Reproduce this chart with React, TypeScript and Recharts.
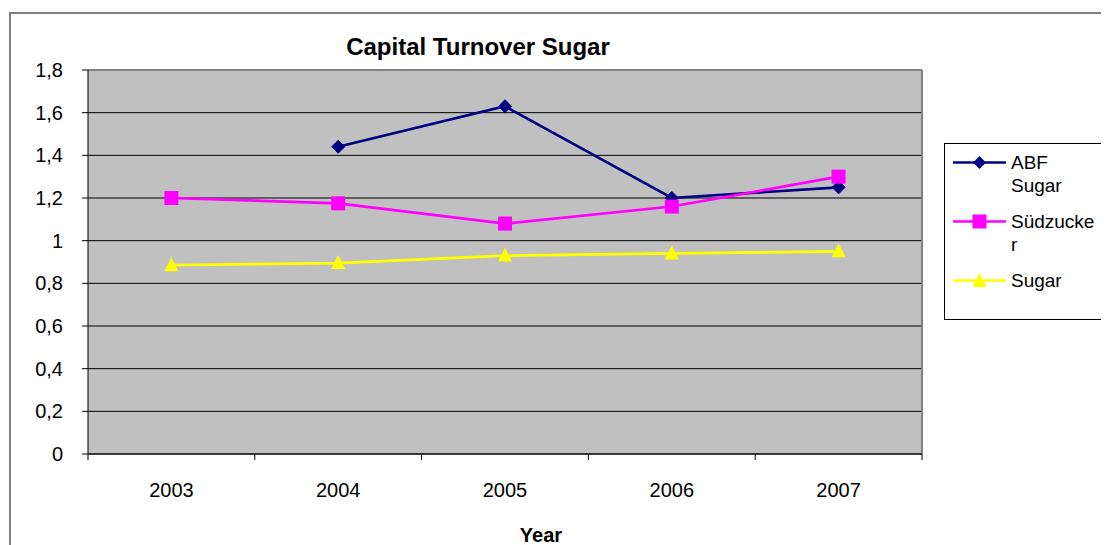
import React from "react";
import { LineChart, Line, XAxis, YAxis, CartesianGrid } from "recharts";

const years = ["2003", "2004", "2005", "2006", "2007"];
const abfSugar = [null, 1.44, 1.63, 1.2, 1.25];
const suedzucker = [1.2, 1.175, 1.08, 1.16, 1.3];
const sugar = [0.885, 0.895, 0.93, 0.94, 0.95];
const yTicks = [0, 0.2, 0.4, 0.6, 0.8, 1, 1.2, 1.4, 1.6, 1.8];
const seriesNames = ["ABF Sugar", "Südzucker", "Sugar"];
const legendLines = [["ABF", "Sugar"], ["Südzucke", "r"], ["Sugar"]];
const seriesColors = ["#000080", "#FF00FF", "#FFFF00"];
const seriesKeys = ["abf", "sued", "sugar"];
const titleText = "Capital Turnover Sugar";
const xTitle = "Year";

const data = years.map((y, i) => ({
  year: y,
  abf: abfSugar[i],
  sued: suedzucker[i],
  sugar: sugar[i],
}));

const FONT = "'Liberation Sans', Arial, sans-serif";
const W = 1101;
const H = 537;
const PLOT_H = 384;
const M = { top: 62, right: 187, left: 0, bottom: 0 };
const Y_W = 80;
const PLOT_W = W - Y_W - M.right;
const BAND = PLOT_W / years.length;

const Diamond = (props: any) => {
  const { cx, cy } = props;
  if (cx == null || cy == null || props.value == null) return null;
  const r = 6.5;
  return (
    <path
      d={`M${cx},${cy - r}L${cx + r},${cy}L${cx},${cy + r}L${cx - r},${cy}Z`}
      fill="#000080"
      stroke="#000080"
    />
  );
};
const Square = (props: any) => {
  const { cx, cy } = props;
  if (cx == null || cy == null || props.value == null) return null;
  const s = 14;
  return <rect x={cx - s / 2} y={cy - s / 2} width={s} height={s} fill="#FF00FF" />;
};
const Triangle = (props: any) => {
  const { cx, cy } = props;
  if (cx == null || cy == null || props.value == null) return null;
  const h = 14;
  return (
    <path
      d={`M${cx},${cy - h / 2 - 1}L${cx + 7},${cy + h / 2 - 1}L${cx - 7},${cy + h / 2 - 1}Z`}
      fill="#FFFF00"
    />
  );
};
const shapes = [Diamond, Square, Triangle];

const XTick = (props: any) => {
  const { x, y, payload, index } = props;
  const axisY = y - 6;
  return (
    <g>
      <line x1={x - BAND / 2} x2={x - BAND / 2} y1={axisY} y2={axisY + 6} stroke="#000" />
      {index === years.length - 1 && (
        <line x1={x + BAND / 2} x2={x + BAND / 2} y1={axisY} y2={axisY + 6} stroke="#000" />
      )}
      <text
        x={x}
        y={axisY + 36}
        dy="0.355em"
        textAnchor="middle"
        fill="#000"
        fontSize={20}
        fontFamily={FONT}
      >
        {payload.value}
      </text>
    </g>
  );
};

const LegendMarker = ({ i }: { i: number }) => {
  const c = seriesColors[i];
  return (
    <svg width={58} height={23} style={{ display: "block", flex: "none" }}>
      <line x1={0} x2={53} y1={11.5} y2={11.5} stroke={c} strokeWidth={2.5} />
      {i === 0 && <path d="M26.5,5L33,11.5L26.5,18L20,11.5Z" fill={c} />}
      {i === 1 && <rect x={19.5} y={4.5} width={14} height={14} fill={c} />}
      {i === 2 && <path d="M26.5,4L33.5,18L19.5,18Z" fill={c} />}
    </svg>
  );
};

export default function App() {
  return (
    <div style={{ position: "relative", width: W, height: H, fontFamily: FONT }}>
      <div
        style={{
          position: "absolute",
          left: 1,
          top: 4,
          width: 1097,
          height: 560,
          border: "2px solid #808080",
          boxSizing: "border-box",
        }}
      />
      <LineChart width={W} height={H} data={data} margin={M}>
        <CartesianGrid vertical={false} stroke="#000" fill="#C0C0C0" fillOpacity={1} />
        <CartesianGrid
          stroke="#808080"
          strokeWidth={2}
          horizontalCoordinatesGenerator={(p: any) => [p.offset.top]}
          verticalCoordinatesGenerator={(p: any) => [p.offset.left + p.offset.width]}
        />
        <XAxis
          dataKey="year"
          height={H - M.top - PLOT_H}
          padding={{ left: BAND / 2, right: BAND / 2 }}
          tickLine={false}
          tickSize={6}
          tickMargin={0}
          axisLine={{ stroke: "#000" }}
          tick={<XTick />}
          interval={0}
        />
        <YAxis
          width={Y_W}
          domain={[0, 1.8]}
          ticks={yTicks}
          interval={0}
          tickSize={6}
          tickMargin={19}
          tickLine={{ stroke: "#000" }}
          axisLine={{ stroke: "#000" }}
          tick={{ fill: "#000", fontSize: 20, fontFamily: FONT }}
          tickFormatter={(v: number) => String(Math.round(v * 10) / 10).replace(".", ",")}
        />
        {seriesKeys.map((k, i) => {
          const S = shapes[i];
          return (
            <Line
              key={k}
              type="linear"
              dataKey={k}
              name={seriesNames[i]}
              stroke={seriesColors[i]}
              strokeWidth={2.7}
              dot={<S />}
              activeDot={false}
              isAnimationActive={false}
              connectNulls={false}
            />
          );
        })}
      </LineChart>
      <div
        style={{
          position: "absolute",
          left: 170,
          width: 600,
          top: 25,
          textAlign: "center",
          fontSize: 24,
          fontWeight: "bold",
          lineHeight: "28px",
          color: "#000",
        }}
      >
        {titleText}
      </div>
      <div
        style={{
          position: "absolute",
          left: 333,
          width: 400,
          top: 515,
          textAlign: "center",
          fontSize: 20,
          fontWeight: "bold",
          lineHeight: "24px",
          color: "#000",
        }}
      >
        {xTitle}
      </div>
      <div
        style={{
          position: "absolute",
          left: 936,
          top: 135,
          width: 160,
          height: 177,
          border: "1px solid #000",
          boxSizing: "border-box",
          background: "#fff",
          paddingTop: 6.5,
          paddingLeft: 8,
        }}
      >
        {seriesNames.map((n, i) => (
          <div key={n} style={{ display: "flex", alignItems: "flex-start", marginBottom: 13 }}>
            <LegendMarker i={i} />
            <div style={{ fontSize: 19, lineHeight: "23px", color: "#000" }}>
              {legendLines[i].map((l, j) => (
                <div key={j}>{l}</div>
              ))}
            </div>
          </div>
        ))}
      </div>
    </div>
  );
}
